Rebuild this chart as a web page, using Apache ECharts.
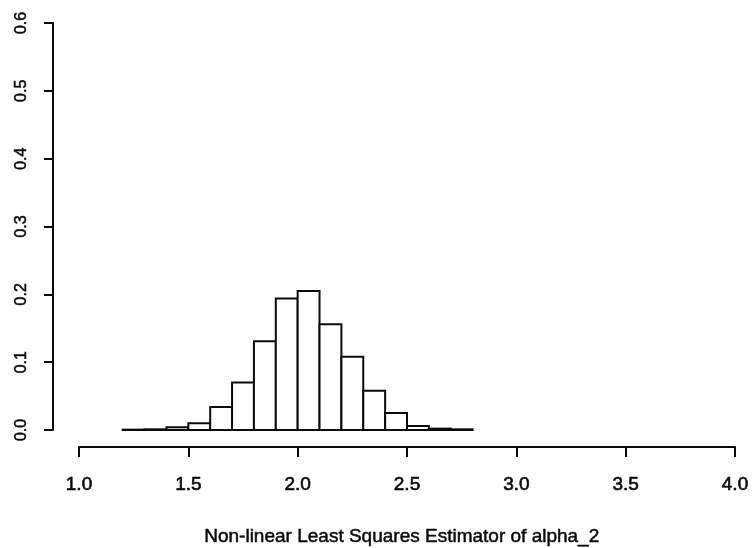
<!DOCTYPE html>
<html>
<head>
<meta charset="utf-8">
<script src="https://cdn.jsdelivr.net/npm/echarts@6/dist/echarts.min.js"></script>
<style>
  html, body { margin: 0; padding: 0; background: #fff; }
  #chart { width: 753px; height: 548px; }
</style>
</head>
<body>
<div id="chart"></div>
<script>
// Histogram bins (lower edges), bin width and relative frequencies
var binStarts = [1.2, 1.3, 1.4, 1.5, 1.6, 1.7, 1.8, 1.9, 2.0, 2.1, 2.2, 2.3, 2.4, 2.5, 2.6, 2.7];
var binWidth = 0.1;
var freqs = [0.0005, 0.001, 0.004, 0.010, 0.034, 0.070, 0.131, 0.194, 0.205, 0.156, 0.108, 0.058, 0.025, 0.006, 0.002, 0.001];
var xTicks = [1.0, 1.5, 2.0, 2.5, 3.0, 3.5, 4.0];
var yTicks = [0.0, 0.1, 0.2, 0.3, 0.4, 0.5, 0.6];
var xLabel = 'Non-linear Least Squares Estimator of alpha_2';

var chart = echarts.init(document.getElementById('chart'), null, { renderer: 'canvas' });
var ink = '#0a0a0a';
var font = '"Liberation Sans", Arial, Helvetica, sans-serif';

chart.setOption({
  animation: false,
  backgroundColor: '#fff',
  grid: { left: 79, right: 18, top: 23, bottom: 118, containLabel: false },
  xAxis: {
    type: 'value',
    min: xTicks[0], max: xTicks[xTicks.length - 1], interval: 0.5,
    offset: 17,
    axisLine: { show: true, onZero: false, lineStyle: { color: ink, width: 2 } },
    axisTick: { show: true, length: 10, lineStyle: { color: ink, width: 2 } },
    axisLabel: { color: ink, fontSize: 19, fontFamily: font, margin: 28,
      textBorderColor: ink, textBorderWidth: 0.6,
      formatter: function (v) { return v.toFixed(1); } },
    splitLine: { show: false }
  },
  yAxis: {
    type: 'value',
    min: yTicks[0], max: yTicks[yTicks.length - 1], interval: 0.1,
    offset: 26,
    axisLine: { show: true, onZero: false, lineStyle: { color: ink, width: 2 } },
    axisTick: { show: true, length: 9, lineStyle: { color: ink, width: 2 } },
    axisLabel: { color: ink, fontSize: 16, fontFamily: font, margin: 23, rotate: 90,
      textBorderColor: ink, textBorderWidth: 0.5,
      formatter: function (v) { return v.toFixed(1); } },
    splitLine: { show: false }
  },
  graphic: [{
    type: 'text',
    left: 400 - 196, top: 527,
    style: { text: xLabel, fill: ink, font: '19px ' + font, stroke: ink, lineWidth: 0.5 }
  }],
  series: [{
    type: 'custom',
    data: binStarts.map(function (s, i) { return [s, freqs[i]]; }),
    renderItem: function (params, api) {
      var x0 = api.value(0), h = api.value(1);
      var p0 = api.coord([x0, h]);
      var p1 = api.coord([x0 + binWidth, 0]);
      return {
        type: 'rect',
        shape: { x: p0[0], y: p0[1], width: p1[0] - p0[0], height: p1[1] - p0[1] },
        style: { fill: '#fff', stroke: ink, lineWidth: 2 }
      };
    }
  }]
});
</script>
</body>
</html>
